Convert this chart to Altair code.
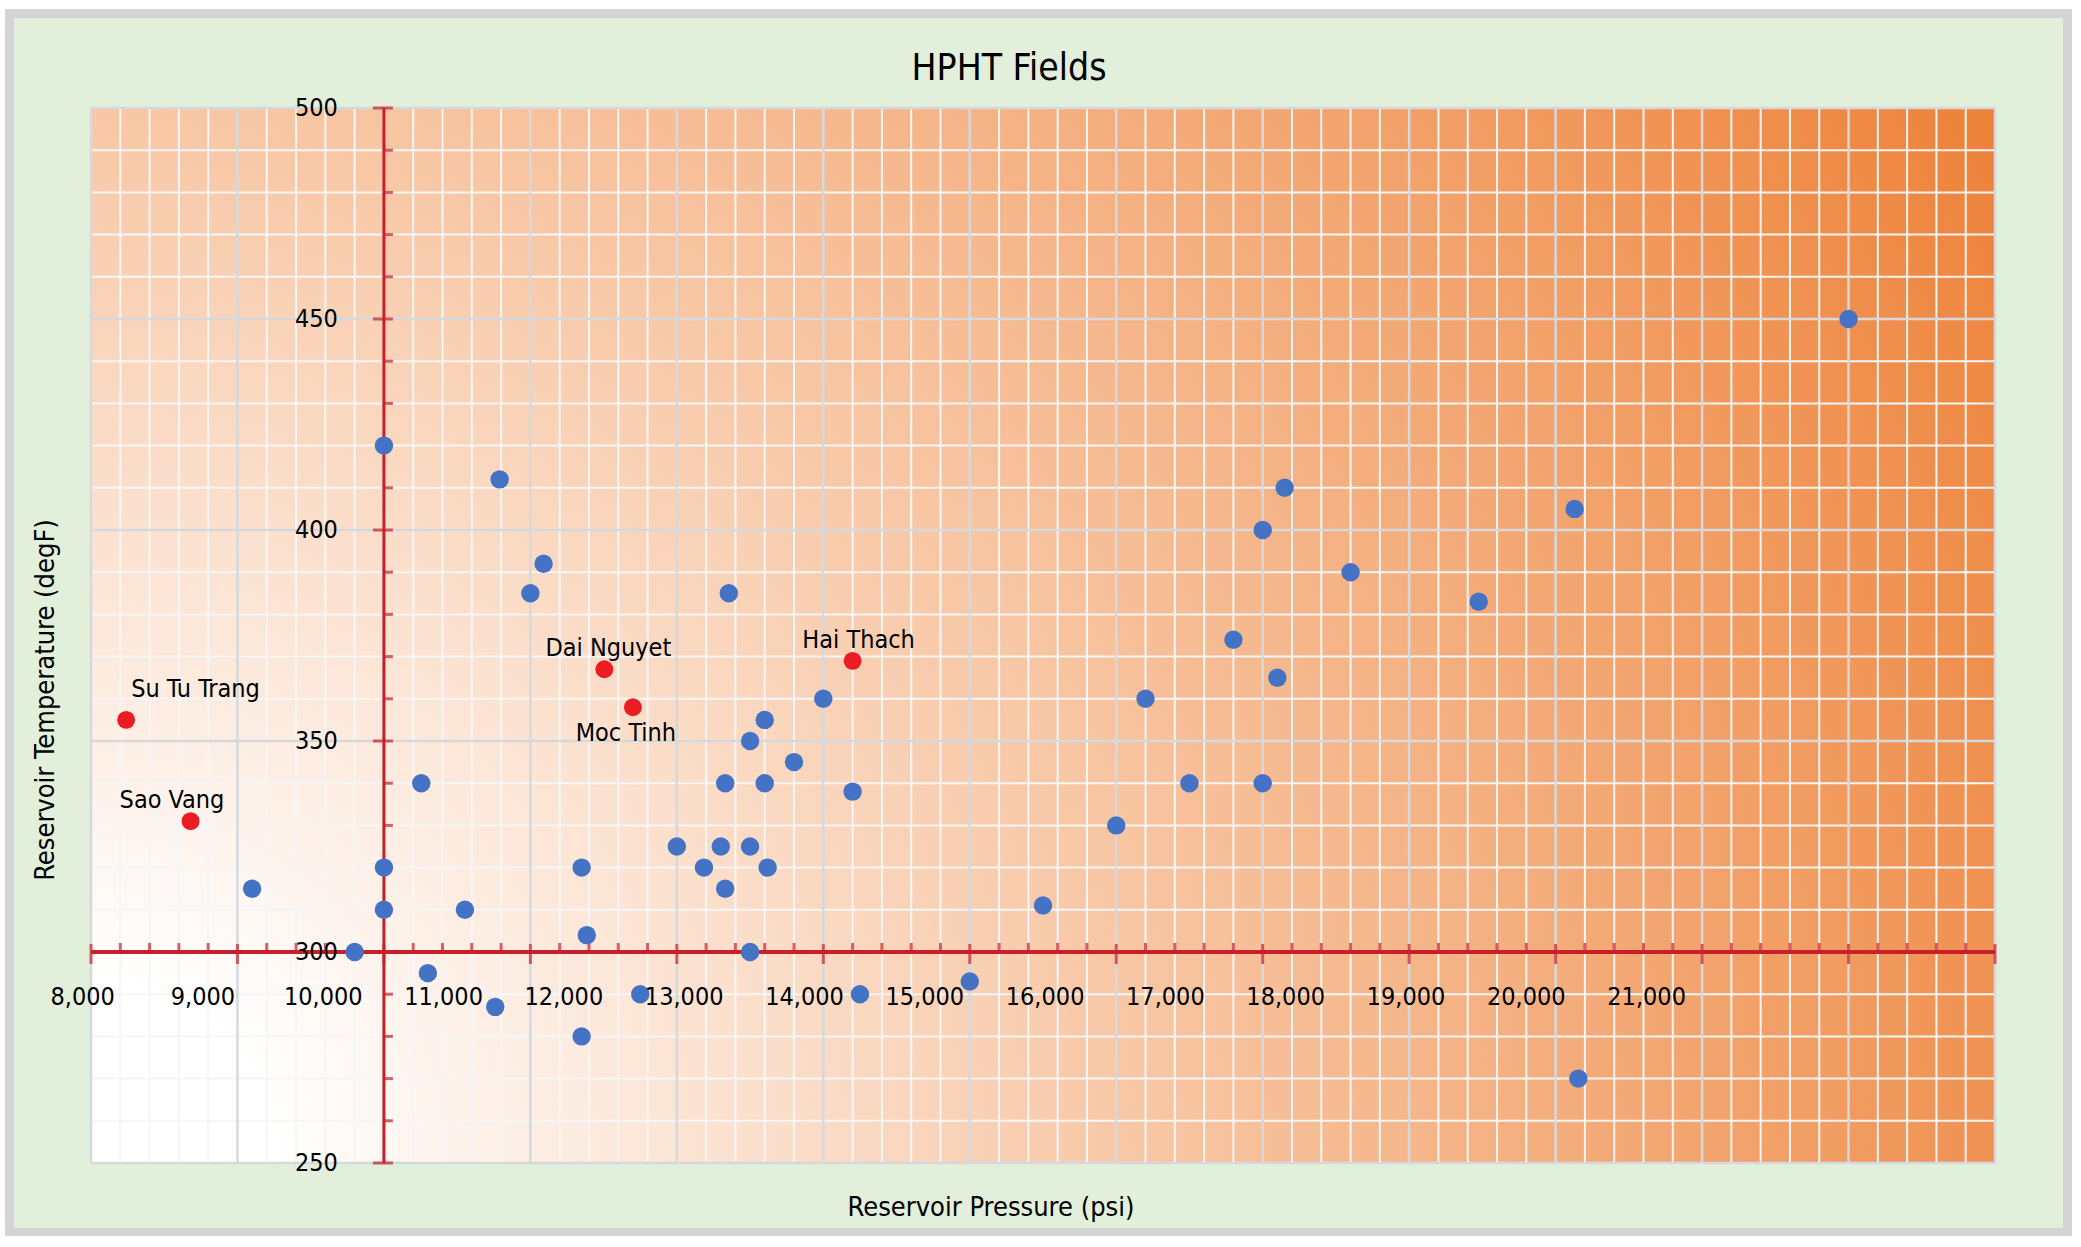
import altair as alt
import pandas as pd

# ---------------------------------------------------------------------------
# Data: reservoir pressure (psi) and temperature (degF) of HPHT fields
# ---------------------------------------------------------------------------
other_pressure = [10000, 10790, 11090, 11000, 12355, 13000, 12600, 12500, 12800, 10255,
                  12330, 12600, 13200, 10000, 9100, 10000, 10553, 11350, 12000, 12300,
                  12500, 12185, 12620, 12330, 11385, 9800, 12500, 10300, 10760, 11350,
                  11750, 13250, 14000, 14500, 15000, 15200, 15500, 15800, 16000, 16150,
                  16100, 16000, 16600, 17475, 18130, 18155, 20000]
other_temperature = [420, 412, 392, 385, 385, 360, 355, 350, 345, 340,
                     340, 340, 338, 320, 315, 310, 310, 320, 325, 325,
                     325, 320, 320, 315, 304, 300, 300, 295, 287, 280,
                     290, 290, 293, 311, 330, 360, 340, 374, 400, 410,
                     365, 340, 390, 383, 405, 270, 450]

vn_names = ["Su Tu Trang", "Sao Vang", "Dai Nguyet", "Moc Tinh", "Hai Thach"]
vn_pressure = [8240, 8680, 11505, 11700, 13200]
vn_temperature = [355, 331, 367, 358, 369]

x_tick_labels = [8000, 9000, 10000, 11000, 12000, 13000, 14000,
                 15000, 16000, 17000, 18000, 19000, 20000, 21000]
y_tick_labels = [250, 300, 350, 400, 450, 500]

# ---------------------------------------------------------------------------
# Layout and style
# ---------------------------------------------------------------------------
FONT = "Liberation Sans Narrow, Arial Narrow, DejaVu Sans Condensed, sans-serif"
TICK_FONT_SIZE = 25
LABEL_FONT_SIZE = 25
AXIS_TITLE_SIZE = 27
TITLE_SIZE = 37

W, H = 1904, 1055
PAD = {"left": 91, "top": 108, "right": 86, "bottom": 84}
X_DOMAIN = [8000, 21000]
Y_DOMAIN = [250, 500]
LABEL_X_DOMAIN = [8069, 23896]      # spacing of the printed pressure labels
CROSS_X, CROSS_Y = 10000, 300       # where the two red axes cross

AXIS_RED = "#c8202a"
BLUE = "#4472c4"
RED = "#ec1c24"
GRID_MINOR = "#f6f6f6"
GRID_MAJOR = "#d5d9de"

LABEL_PLACEMENT = {
    "Su Tu Trang": dict(align="left", dx=5, dy=-23),
    "Sao Vang": dict(align="left", dx=-71, dy=-13),
    "Dai Nguyet": dict(align="center", dx=4, dy=-13),
    "Moc Tinh": dict(align="center", dx=-7, dy=34),
    "Hai Thach": dict(align="center", dx=6, dy=-13),
}

xs = alt.Scale(domain=X_DOMAIN, nice=False, zero=False)
ys = alt.Scale(domain=Y_DOMAIN, nice=False, zero=False)
blank = alt.Data(values=[{}])


def xfield(name="v"):
    return alt.X(f"{name}:Q", scale=xs, axis=None)


def yfield(name="v"):
    return alt.Y(f"{name}:Q", scale=ys, axis=None)


# outer frame: grey border around a pale green panel
frame = alt.Chart(blank).mark_rect(fill="#d4d4d4").encode(
    x=alt.value(-86), x2=alt.value(1981), y=alt.value(-99), y2=alt.value(1128))
panel = alt.Chart(blank).mark_rect(fill="#e2efda").encode(
    x=alt.value(-77), x2=alt.value(1972), y=alt.value(-90), y2=alt.value(1120))

# plot background: white in the low-pressure/low-temperature corner, orange far away
R = 2250
glow = alt.Chart(blank).mark_rect(
    clip=True,
    fill={
        "gradient": "radial",
        "x1": 0, "y1": 1, "r1": 0,
        "x2": 0, "y2": 1, "r2": 1,
        "stops": [
            {"offset": 0.0, "color": "#ffffff"},
            {"offset": 0.08, "color": "#ffffff"},
            {"offset": 0.45, "color": "#f8c9a8"},
            {"offset": 1.0, "color": "#ed7d31"},
        ],
    },
).encode(x=alt.value(0), x2=alt.value(R), y=alt.value(H - R), y2=alt.value(H))

minor_x = [v for v in range(X_DOMAIN[0], X_DOMAIN[1] + 1, 200) if v % 1000]
major_x = list(range(X_DOMAIN[0], X_DOMAIN[1] + 1, 1000))
minor_y = [v for v in range(Y_DOMAIN[0], Y_DOMAIN[1] + 1, 10) if v % 50]
major_y = list(range(Y_DOMAIN[0], Y_DOMAIN[1] + 1, 50))


def vrules(values, color, width):
    return alt.Chart(pd.DataFrame({"v": values})).mark_rule(
        color=color, strokeWidth=width).encode(x=xfield())


def hrules(values, color, width):
    return alt.Chart(pd.DataFrame({"v": values})).mark_rule(
        color=color, strokeWidth=width).encode(y=yfield())


grid = [
    vrules(minor_x, GRID_MINOR, 2),
    hrules(minor_y, GRID_MINOR, 2),
    vrules(major_x, GRID_MAJOR, 2.5),
    hrules(major_y, GRID_MAJOR, 2.5),
]

# red cross-hair axes
axis_h = alt.Chart(blank).mark_rule(color=AXIS_RED, strokeWidth=4).encode(
    y=alt.YDatum(CROSS_Y, scale=ys, axis=None))
axis_v = alt.Chart(blank).mark_rule(color=AXIS_RED, strokeWidth=3).encode(
    x=alt.XDatum(CROSS_X, scale=xs, axis=None))


def xticks(values, size, offset):
    return alt.Chart(pd.DataFrame({"v": values})).mark_tick(
        orient="vertical", size=size, thickness=3, color=AXIS_RED, yOffset=offset
    ).encode(x=xfield(), y=alt.YDatum(CROSS_Y, scale=ys, axis=None))


def yticks(values, size, offset):
    return alt.Chart(pd.DataFrame({"v": values})).mark_tick(
        orient="horizontal", size=size, thickness=3, color=AXIS_RED, xOffset=offset
    ).encode(y=yfield(), x=alt.XDatum(CROSS_X, scale=xs, axis=None))


ticks = [
    xticks(minor_x, 9, -4.5),
    xticks(major_x, 20, 2),
    yticks(minor_y, 9, 4.5),
    yticks(major_y, 20, -1),
]

# field points
others_df = pd.DataFrame({"p": other_pressure, "t": other_temperature})
vn_df = pd.DataFrame({"name": vn_names, "p": vn_pressure, "t": vn_temperature})

others = alt.Chart(others_df).mark_circle(size=340, color=BLUE, opacity=1).encode(
    x=xfield("p"), y=yfield("t"))
vn_points = alt.Chart(vn_df).mark_circle(size=320, color=RED, opacity=1).encode(
    x=xfield("p"), y=yfield("t"))

vn_labels = [
    alt.Chart(vn_df).transform_filter(alt.datum.name == name).mark_text(
        font=FONT, fontSize=LABEL_FONT_SIZE, color="black", baseline="alphabetic",
        **LABEL_PLACEMENT[name]
    ).encode(x=xfield("p"), y=yfield("t"), text="name:N")
    for name in vn_names
]

# temperature labels beside the vertical red axis
y_labels = alt.Chart(pd.DataFrame({"v": y_tick_labels})).mark_text(
    font=FONT, fontSize=TICK_FONT_SIZE, color="black", align="right",
    baseline="middle", dx=-46
).encode(x=alt.XDatum(CROSS_X, scale=xs, axis=None), y=yfield(),
         text=alt.Text("v:Q", format="d"))

# titles
title = alt.Chart(blank).mark_text(
    text="HPHT Fields", font=FONT, fontSize=TITLE_SIZE, color="black",
    align="center", baseline="alphabetic"
).encode(x=alt.value(918), y=alt.value(-28))
x_title = alt.Chart(blank).mark_text(
    text="Reservoir Pressure (psi)", font=FONT, fontSize=AXIS_TITLE_SIZE, color="black",
    align="center", baseline="alphabetic"
).encode(x=alt.value(900), y=alt.value(1108))
y_title = alt.Chart(blank).mark_text(
    text="Reservoir Temperature (degF)", font=FONT, fontSize=AXIS_TITLE_SIZE,
    color="black", align="center", baseline="alphabetic", angle=270
).encode(x=alt.value(-37.5), y=alt.value(592))

main = alt.layer(
    frame, panel, glow, *grid, axis_h, axis_v, *ticks,
    others, vn_points, *vn_labels, y_labels, title, x_title, y_title,
)

# pressure labels below the horizontal red axis, on their own spacing
x_labels = alt.Chart(pd.DataFrame({"v": x_tick_labels})).mark_text(
    font=FONT, fontSize=TICK_FONT_SIZE, color="black", align="center",
    baseline="middle", dy=45
).encode(
    x=alt.X("v:Q", scale=alt.Scale(domain=LABEL_X_DOMAIN, nice=False, zero=False), axis=None),
    y=alt.YDatum(CROSS_Y, scale=ys, axis=None),
    text=alt.Text("v:Q", format=","),
)

chart = alt.layer(main, x_labels).resolve_scale(x="independent").properties(
    width=W, height=H, padding=PAD,
    autosize=alt.AutoSizeParams(type="none"),
    background="white",
).configure_view(stroke=None)

chart.save("out.html", embed_options={"renderer": "svg", "actions": False})
